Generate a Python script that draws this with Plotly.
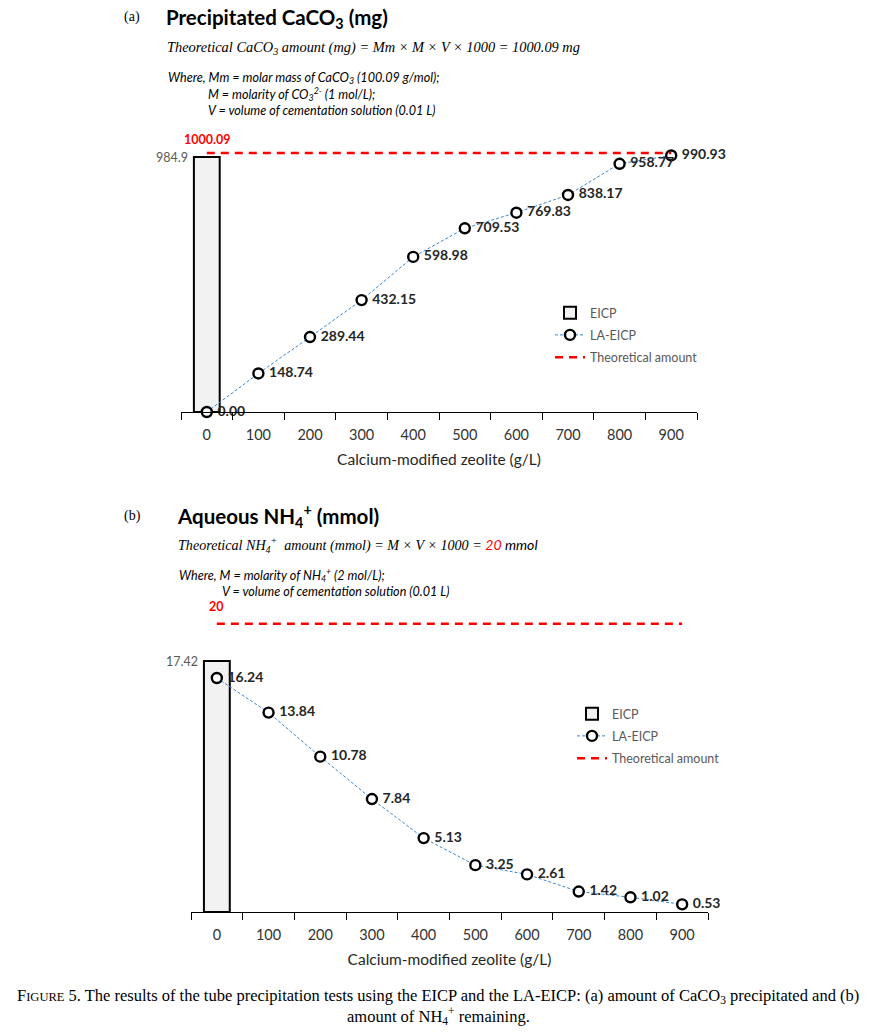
import plotly.graph_objects as go

W, H = 877, 1033

# ---------------- data ----------------
zeolite = [0, 100, 200, 300, 400, 500, 600, 700, 800, 900]
caco3_la_eicp = [0.00, 148.74, 289.44, 432.15, 598.98, 709.53, 769.83, 838.17, 958.77, 990.93]
caco3_eicp = 984.9
caco3_theory = 1000.09
nh4_la_eicp = [16.24, 13.84, 10.78, 7.84, 5.13, 3.25, 2.61, 1.42, 1.02, 0.53]
nh4_eicp = 17.42
nh4_theory = 20
tick_vals = [0, 100, 200, 300, 400, 500, 600, 700, 800, 900]
tick_text = [str(v) for v in tick_vals]


def px(p):
    return p / W


def py(p):
    return 1 - p / H


SANS = "Lato"
SERIF = "Liberation Serif"
LABEL_COLOR = "#262626"
BLUE = "#3a87d0"

fig = go.Figure()

# ---------- panel (a) ----------
fig.add_trace(go.Bar(
    x=[0], y=[caco3_eicp], width=50, name="EICP", legendgroup="a1",
    marker=dict(color="#f2f2f2", line=dict(color="black", width=2)),
    xaxis="x", yaxis="y", legend="legend", hoverinfo="skip"))
fig.add_trace(go.Scatter(
    x=zeolite, y=caco3_la_eicp, name="LA-EICP", legendgroup="a2", mode="lines+markers+text",
    text=[f" {v:.2f}" for v in caco3_la_eicp], textposition="middle right",
    textfont=dict(family=SANS, size=14, color=LABEL_COLOR, weight="bold"),
    line=dict(color=BLUE, width=1, dash="3px,2px"),
    marker=dict(symbol="circle", size=10, color="white", line=dict(color="black", width=2.4)),
    xaxis="x", yaxis="y", legend="legend", cliponaxis=False))
fig.add_trace(go.Scatter(
    x=[zeolite[0], zeolite[-1]], y=[caco3_theory, caco3_theory], name="Theoretical amount",
    legendgroup="a3", mode="lines", line=dict(color="#ff0000", width=2.5, dash="8px,6px"),
    xaxis="x", yaxis="y", legend="legend"))

# ---------- panel (b) ----------
fig.add_trace(go.Bar(
    x=[0], y=[nh4_eicp], width=50, name="EICP", legendgroup="b1",
    marker=dict(color="#f2f2f2", line=dict(color="black", width=2)),
    xaxis="x2", yaxis="y2", legend="legend2", hoverinfo="skip"))
fig.add_trace(go.Scatter(
    x=zeolite, y=nh4_la_eicp, name="LA-EICP", legendgroup="b2", mode="lines+markers+text",
    text=[f" {v:.2f}" for v in nh4_la_eicp], textposition="middle right",
    textfont=dict(family=SANS, size=14, color=LABEL_COLOR, weight="bold"),
    line=dict(color=BLUE, width=1, dash="3px,2px"),
    marker=dict(symbol="circle", size=10, color="white", line=dict(color="black", width=2.4)),
    xaxis="x2", yaxis="y2", legend="legend2", cliponaxis=False))
fig.add_trace(go.Scatter(
    x=[zeolite[0], zeolite[-1]], y=[nh4_theory, nh4_theory], name="Theoretical amount",
    legendgroup="b3", mode="lines", line=dict(color="#ff0000", width=2.5, dash="8px,6px"),
    xaxis="x2", yaxis="y2", legend="legend2"))


def xaxis_cfg(domain, anchor):
    return dict(
        domain=domain, anchor=anchor, range=[-50, 950],
        tickmode="array", tickvals=tick_vals, ticktext=tick_text, ticks="",
        tickfont=dict(family=SANS, size=14.5, color="#333333"),
        showline=True, linecolor="black", linewidth=1.3, showgrid=False, zeroline=False,
        minor=dict(tickmode="linear", tick0=-50, dtick=100, ticks="outside",
                   ticklen=7, tickwidth=1.3, tickcolor="black", showgrid=False),
        ticklabelstandoff=9,
        title=dict(text="Calcium-modified zeolite (g/L)",
                   font=dict(family=SANS, size=15.5, color="#262626"), standoff=12),
    )


def yaxis_cfg(domain, anchor, top):
    return dict(domain=domain, anchor=anchor, range=[0, top], visible=False, fixedrange=True)


# panel (a): x px 181..697, axis at y px 412; 0..984.9 spans 255 px
scale_a = 255 / caco3_eicp
top_a = (412 - 130) / scale_a
# panel (b): x px 191..708, axis at y px 912; 0..17.42 spans 251 px
scale_b = 251 / nh4_eicp
top_b = (912 - 595) / scale_b

legend_font = dict(family=SANS, size=12.5, color="#595959")

fig.update_layout(
    width=W, height=H, margin=dict(l=0, r=0, t=0, b=0),
    paper_bgcolor="white", plot_bgcolor="white",
    showlegend=True, barmode="overlay",
    xaxis=xaxis_cfg([px(181), px(697)], "y"),
    yaxis=yaxis_cfg([py(412), py(130)], "x", top_a),
    xaxis2=xaxis_cfg([px(191), px(708)], "y2"),
    yaxis2=yaxis_cfg([py(912), py(595)], "x2", top_b),
    legend=dict(x=px(550), y=py(298), xanchor="left", yanchor="top", font=legend_font,
                itemwidth=30, bgcolor="rgba(0,0,0,0)", traceorder="grouped", tracegroupgap=3),
    legend2=dict(x=px(572), y=py(699), xanchor="left", yanchor="top", font=legend_font,
                 itemwidth=30, bgcolor="rgba(0,0,0,0)", traceorder="grouped", tracegroupgap=3),
)

ann = []


def text(x, y, s, size, family=SANS, color="black", xanchor="left", xref="paper", yref="paper",
         yanchor="middle", **kw):
    ann.append(dict(x=x, y=y, xref=xref, yref=yref, text=s, showarrow=False,
                    xanchor=xanchor, yanchor=yanchor,
                    font=dict(family=family, size=size, color=color), **kw))


# panel (a) header
text(px(122), py(17), "(a)", 14, family=SERIF)
text(px(164), py(18), "<b>Precipitated CaCO<sub>3</sub> (mg)</b>", 20.5)
text(px(165), py(48),
     "<i>Theoretical CaCO<sub>3</sub> amount (mg) = Mm × M × V × 1000 = 1000.09 mg</i>",
     14.4, family=SERIF)
text(px(166), py(78), "<i>Where, Mm = molar mass of CaCO<sub>3</sub> (100.09 g/mol);</i>", 12.6,
     height=16)
text(px(206), py(94), "<i>M = molarity of CO<sub>3</sub><sup>2-</sup> (1 mol/L);</i>", 12.6,
     height=16)
text(px(206), py(110), "<i>V = volume of cementation solution (0.01 L)</i>", 12.6, height=16)

# panel (a) value labels
text(-25, caco3_eicp, f"{caco3_eicp}", 12.5, color="#595959", xanchor="right",
     xref="x", yref="y", xshift=-4)
text(0, caco3_theory, f"<b>{caco3_theory:.2f}</b>", 12.5, color="#ff0000", xanchor="center",
     xref="x", yref="y", yanchor="bottom", yshift=4)

# panel (b) header
text(px(122), py(516), "(b)", 14, family=SERIF)
text(px(175), py(516), "<b>Aqueous NH<sub>4</sub><sup>+</sup> (mmol)</b>", 20.5)
text(px(176), py(545),
     "<i>Theoretical NH<sub>4</sub><sup>+</sup>  amount (mmol) = M × V × 1000 = </i>"
     "<span style='font-family:Lato'><i><span style='color:#ff0000'>20</span> mmol</i></span>",
     14.1, family=SERIF)
text(px(177), py(575), "<i>Where, M = molarity of NH<sub>4</sub><sup>+</sup> (2 mol/L);</i>", 12.6,
     height=16)
text(px(220), py(591), "<i>V = volume of cementation solution (0.01 L)</i>", 12.6, height=16)

text(-25, nh4_eicp, f"{nh4_eicp}", 12.5, color="#595959", xanchor="right",
     xref="x2", yref="y2", xshift=-4)
text(0, nh4_theory, f"<b>{nh4_theory}</b>", 12.5, color="#ff0000", xanchor="center",
     xref="x2", yref="y2", yanchor="bottom", yshift=8)

# caption
text(px(438), py(996),
     "F<span style='font-size:12.5px'>IGURE</span> 5. The results of the tube precipitation tests using "
     "the EICP and the LA-EICP: (a) amount of CaCO<sub>3</sub> precipitated and (b)",
     16.5, family=SERIF, xanchor="center")
text(px(438), py(1016), "amount of NH<sub>4</sub><sup>+</sup> remaining.", 16.5, family=SERIF,
     xanchor="center")

fig.update_layout(annotations=ann)
fig.write_html("out.html", config={"displayModeBar": False},
               post_script="document.body.style.margin='0';")
